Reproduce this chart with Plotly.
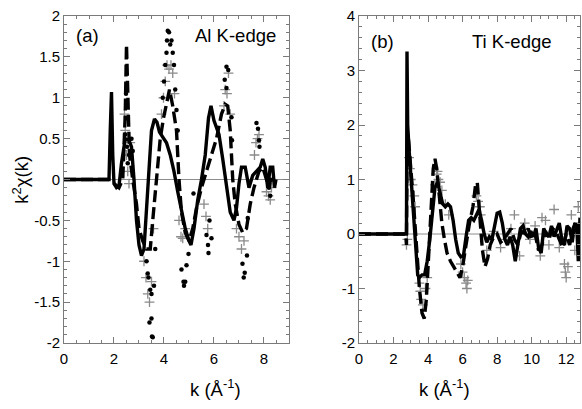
import plotly.graph_objects as go

# ---------------- Panel (a): Al K-edge ----------------
al_solid_k = [0, 1.80, 1.85, 1.90, 1.95, 2.0, 2.1, 2.2, 2.3, 2.45, 2.6, 2.7, 2.8, 2.9, 3.0, 3.1, 3.2, 3.3, 3.4, 3.5,
              3.62, 3.72, 3.82, 3.95, 4.1, 4.25, 4.4, 4.55, 4.7, 4.85, 5.0, 5.08, 5.2, 5.35, 5.5, 5.65, 5.78, 5.88,
              6.0, 6.1, 6.2, 6.35, 6.5, 6.65, 6.8, 6.9, 7.0, 7.1, 7.25, 7.4, 7.55, 7.7, 7.85, 7.95, 8.05, 8.15,
              8.25, 8.35, 8.42, 8.48]
al_solid_v = [0, 0, 0.6, 1.07, 0.3, -0.05, -0.1, -0.08, 0.2, 0.5, 0.48, 0.4, 0.0, -0.5, -0.8, -0.93, -0.85, -0.4,
              0.2, 0.6, 0.74, 0.7, 0.58, 0.52, 0.45, 0.3, 0.1, -0.15, -0.4, -0.6, -0.75, -0.8, -0.6, -0.25, 0.0,
              0.3, 0.75, 0.9, 0.72, 0.62, 0.55, 0.25, -0.1, -0.4, -0.5, -0.35, -0.05, 0.15, 0.15, -0.1, 0.05,
              0.1, 0.15, 0.25, 0.15, -0.1, 0.15, 0.15, -0.1, 0.0]

al_dash_k = [0, 1.8, 2.0, 2.2, 2.35, 2.45, 2.5, 2.55, 2.62, 2.75, 2.9, 3.0, 3.15, 3.3, 3.45, 3.55, 3.7, 3.85, 3.98,
             4.1, 4.22, 4.35, 4.5, 4.6, 4.7, 4.85, 5.0, 5.15, 5.3, 5.5, 5.65, 5.8, 5.95, 6.1, 6.3, 6.45, 6.55,
             6.65, 6.75, 6.85, 7.0, 7.15, 7.3, 7.45, 7.6, 7.8, 7.95, 8.1, 8.2, 8.3, 8.45]
al_dash_v = [0, 0, -0.05, -0.1, 0.0, 0.8, 1.65, 0.9, 0.3, 0.0, -0.3, -0.6, -0.75, -0.85, -0.85, -0.5, 0.0, 0.5,
             0.75, 0.95, 1.1, 0.9, 0.6, 0.0, -0.4, -0.65, -0.75, -0.6, -0.35, -0.1, 0.05, 0.2, 0.35, 0.5, 0.8,
             0.92, 0.9, 0.6, 0.0, -0.3, -0.55, -0.65, -0.6, -0.3, -0.1, 0.1, 0.15, 0.0, -0.1, 0.05, -0.05]

al_dots_k = [2.45, 2.5, 2.48, 2.52, 2.6, 2.55, 2.7, 2.75, 3.3, 3.35, 3.38, 3.45, 3.5, 3.42, 3.5, 3.52, 3.55, 3.6,
             3.65, 3.95, 4.0, 4.05, 4.1, 4.12, 4.15, 4.2, 4.25, 4.3, 4.35, 4.4, 4.45, 4.5, 4.55, 4.7, 4.78, 4.8,
             4.85, 4.9, 4.98, 5.18, 5.7, 5.76, 5.78, 5.9, 5.82, 6.43, 6.5, 6.57, 6.5, 6.7, 6.72, 7.14, 7.19, 7.23,
             7.32, 7.35, 7.7, 7.76, 7.8, 7.82, 8.2, 8.25]
al_dots_v = [0.55, 0.75, 1.05, 0.4, 0.3, 0.2, 0.5, 0.35, -1.0, -1.15, -1.2, -1.35, -1.4, -1.75, -1.7, -1.92, -1.93,
             -1.3, -0.85, 1.0, 1.2, 1.4, 1.55, 1.7, 1.82, 1.8, 1.65, 1.7, 1.55, 1.4, 1.1, 0.85, 0.6, -1.1, -1.25,
             -1.3, -1.25, -1.05, -0.91, -0.17, -0.68, -0.8, -0.9, -0.72, -0.5, 1.22, 1.38, 1.34, 1.12, 0.76,
             0.48, -1.03, -1.2, -1.14, -0.93, -0.47, 0.69, 0.62, 0.48, 0.4, -0.1, -0.2]

al_cross_k = [2.42, 2.45, 2.5, 2.55, 2.6, 2.65, 3.2, 3.28, 3.35, 3.42, 3.5, 3.58, 3.9, 3.98, 4.05, 4.12, 4.2, 4.28,
              4.35, 4.42, 4.6, 4.68, 4.75, 4.85, 5.6, 5.68, 5.75, 6.4, 6.45, 6.52, 6.58, 6.65, 6.9, 7.0, 7.1, 7.2,
              7.62, 7.68, 7.74, 7.8, 8.1, 8.18, 8.25, 8.3]
al_cross_v = [0.8, 0.6, 0.3, 0.1, -0.05, 0.45, -1.0, -1.2, -1.4, -1.5, -1.25, -0.6, 0.8, 1.0, 1.2, 1.4, 1.35, 1.4,
              1.3, 1.05, -0.5, -0.7, -0.72, -0.6, -0.3, -0.45, -0.6, 0.9, 1.1, 1.05, 1.3, 0.8, -0.6, -0.7, -0.85,
              -0.75, 0.3, 0.45, 0.5, 0.55, -0.15, -0.2, -0.25, -0.1]

# ---------------- Panel (b): Ti K-edge ----------------
ti_solid_k = [0, 2.7, 2.75, 2.78, 2.82, 2.9, 3.0, 3.1, 3.2, 3.3, 3.4, 3.5, 3.65, 3.8, 3.95, 4.1, 4.25, 4.4, 4.55,
              4.7, 4.85, 5.0, 5.15, 5.3, 5.45, 5.6, 5.75, 5.9, 6.05, 6.2, 6.35, 6.5, 6.65, 6.8, 6.95, 7.1, 7.25,
              7.4, 7.55, 7.7, 7.85, 8.0, 8.15, 8.3, 8.45, 8.6, 8.75, 8.9, 9.05, 9.2, 9.35, 9.5, 9.65, 9.8, 9.95,
              10.1, 10.25, 10.4, 10.55, 10.7, 10.85, 11.0, 11.15, 11.3, 11.45, 11.6, 11.75, 11.9, 12.05, 12.2,
              12.35, 12.5, 12.62, 12.7, 12.8]
ti_solid_v = [0, 0, 0, 3.35, 2.0, 1.55, 1.1, 0.6, 0.0, -0.45, -0.75, -0.8, -0.75, -0.75, -0.5, -0.1, 0.4, 0.85,
              0.95, 0.75, 0.55, 0.5, 0.55, 0.5, 0.25, -0.1, -0.35, -0.42, -0.4, -0.05, 0.25, 0.3, 0.25, 0.35,
              0.45, 0.25, 0.0, -0.15, -0.05, -0.1, 0.15, 0.38, 0.4, 0.2, -0.1, -0.2, -0.05, -0.2, -0.5, -0.15,
              0.1, 0.15, 0.0, -0.05, 0.05, -0.05, 0.1, -0.25, -0.35, 0.1, 0.0, -0.05, 0.15, -0.05, 0.1, 0.2,
              -0.1, -0.2, 0.15, 0.1, -0.15, 0.2, 0.1, -0.5, 0.3]

ti_dash_k = [0, 2.7, 2.75, 2.78, 2.85, 2.95, 3.05, 3.15, 3.25, 3.35, 3.5, 3.65, 3.78, 3.9, 4.0, 4.1, 4.2, 4.3, 4.4,
             4.5, 4.65, 4.8, 4.95, 5.1, 5.3, 5.5, 5.7, 5.85, 6.0, 6.2, 6.4, 6.6, 6.75, 6.85, 6.95, 7.05, 7.15,
             7.3, 7.45, 7.6, 7.8, 8.0, 8.2, 8.4, 8.6, 8.8, 9.0, 9.2, 9.4, 9.6, 9.8, 10.0, 10.2, 10.4, 10.6, 10.8,
             11.0, 11.2, 11.4, 11.6, 11.8, 12.0, 12.2, 12.4, 12.6, 12.8]
ti_dash_v = [0, 0, -0.2, 1.5, 1.8, 1.3, 1.0, 0.6, 0.1, -0.4, -1.0, -1.45, -1.55, -1.2, -0.6, 0.0, 0.7, 1.2, 1.38,
             1.2, 0.7, 0.2, -0.1, -0.35, -0.5, -0.6, -0.7, -0.8, -0.6, -0.2, 0.2, 0.5, 0.9, 0.95, 0.6, 0.1,
             -0.3, -0.6, -0.45, -0.2, -0.05, 0.0, -0.15, -0.1, 0.0, 0.1, -0.1, -0.2, 0.05, 0.0, 0.1, -0.1, 0.0,
             -0.3, -0.2, 0.05, -0.1, 0.1, 0.05, -0.1, -0.25, 0.0, -0.2, 0.1, 0.25, -0.1]

ti_cross_k = [2.75, 2.8, 2.9, 2.95, 3.0, 3.1, 3.2, 3.25, 3.5, 3.55, 3.6, 3.7, 3.85, 3.95, 4.4, 4.5, 4.55, 4.6, 4.7,
              4.8, 5.0, 5.2, 5.9, 6.0, 6.1, 6.2, 6.25, 6.3, 6.8, 6.9, 7.0, 7.05, 7.4, 7.8, 8.2, 8.5, 8.8, 9.0, 9.3,
              9.6, 9.9, 10.2, 10.5, 10.6, 10.8, 11.0, 11.3, 11.6, 11.9, 11.95, 12.0, 12.1, 12.3, 12.5, 12.7]
ti_cross_v = [-0.2, -0.1, 1.4, 1.2, 1.0, 0.9, 0.7, 0.5, -0.9, -1.05, -1.2, -1.3, -1.0, -0.8, 0.9, 1.1, 1.15, 1.0,
              0.95, 0.8, 0.55, 0.35, -0.55, -0.7, -0.8, -0.9, -1.0, -0.85, 0.7, 0.6, 0.5, 0.35, -0.3, 0.05, -0.25,
              -0.1, 0.1, 0.35, -0.4, 0.2, -0.1, 0.15, -0.4, 0.3, 0.25, -0.2, 0.45, -0.25, -0.55, -0.7, -0.8, -0.6,
              0.35, -0.3, 0.5]

# tick labels
al_x_ticks = [0, 2, 4, 6, 8]
al_y_ticks = [-2, -1.5, -1, -0.5, 0, 0.5, 1, 1.5, 2]
al_y_text = ["-2", "-1.5", "-1", "-0.5", "0", "0.5", "1", "1.5", "2"]
ti_x_ticks = [0, 2, 4, 6, 8, 10, 12]
ti_y_ticks = [-2, -1, 0, 1, 2, 3, 4]
ti_y_text = ["-2", "-1", "0", "1", "2", "3", "4"]

FONT = "Liberation Sans, Arial, Helvetica, sans-serif"
CROSS_COL = "#8a8a8a"
FRAME_COL = "#7a7a7a"

fig = go.Figure()

def add_panel(xa, ya, ck, cv, dk, dv, sk, sv, dotk=None, dotv=None):
    fig.add_trace(go.Scatter(x=ck, y=cv, mode="markers", xaxis=xa, yaxis=ya,
                             marker=dict(symbol="cross-thin", size=7,
                                         line=dict(color=CROSS_COL, width=1.3)),
                             showlegend=False))
    if dotk is not None:
        fig.add_trace(go.Scatter(x=dotk, y=dotv, mode="markers", xaxis=xa, yaxis=ya,
                                 marker=dict(symbol="circle", size=4.5, color="black"),
                                 showlegend=False))
    fig.add_trace(go.Scatter(x=dk, y=dv, mode="lines", xaxis=xa, yaxis=ya,
                             line=dict(color="black", width=3.4, dash="12px,5px"),
                             showlegend=False))
    fig.add_trace(go.Scatter(x=sk, y=sv, mode="lines", xaxis=xa, yaxis=ya,
                             line=dict(color="black", width=3.4),
                             showlegend=False))

add_panel("x", "y", al_cross_k, al_cross_v, al_dash_k, al_dash_v, al_solid_k, al_solid_v,
          al_dots_k, al_dots_v)
add_panel("x2", "y2", ti_cross_k, ti_cross_v, ti_dash_k, ti_dash_v, ti_solid_k, ti_solid_v)

common_axis = dict(showgrid=False, showline=True, linecolor=FRAME_COL, linewidth=1,
                   mirror="ticks", ticks="inside", ticklen=6, tickcolor=FRAME_COL, tickwidth=1,
                   tickfont=dict(family=FONT, size=15, color="black"),
                   zeroline=False, automargin=False)

fig.update_layout(
    template="none",
    width=582, height=409,
    margin=dict(l=64, r=2, t=16, b=66, autoexpand=False),
    paper_bgcolor="white", plot_bgcolor="white",
    font=dict(family=FONT, color="black"),
    xaxis=dict(domain=[0, 0.436], range=[0, 9], tickvals=al_x_ticks, anchor="y", ticklabelstandoff=2,
               minor=dict(ticks="inside", dtick=0.5, ticklen=3, tickcolor=FRAME_COL), **common_axis),
    yaxis=dict(domain=[0, 1], range=[-2, 2], tickvals=al_y_ticks, ticktext=al_y_text, anchor="x",
               minor=dict(ticks="inside", dtick=0.1, ticklen=3, tickcolor=FRAME_COL), **common_axis),
    xaxis2=dict(domain=[0.5717, 1], range=[0, 12.8], tickvals=ti_x_ticks, anchor="y2", ticklabelstandoff=2,
                minor=dict(ticks="inside", dtick=0.5, ticklen=3, tickcolor=FRAME_COL), **common_axis),
    yaxis2=dict(domain=[0, 1], range=[-2, 4], tickvals=ti_y_ticks, ticktext=ti_y_text, anchor="x2",
                minor=dict(ticks="inside", dtick=0.2, ticklen=3, tickcolor=FRAME_COL), **common_axis),
)

# zero lines
for xr, yr in (("x", "y"), ("x2", "y2")):
    fig.add_shape(type="line", xref=f"{xr} domain", yref=yr, x0=0, x1=1, y0=0, y1=0,
                  line=dict(color="#8c8c8c", width=1), layer="below")

ann_font = dict(family=FONT, size=18.5, color="black")
fig.add_annotation(text="(a)", xref="x", yref="y", x=0.4, y=1.76, showarrow=False,
                   xanchor="left", font=ann_font)
fig.add_annotation(text="Al K-edge", xref="x", yref="y", x=8.55, y=1.76, showarrow=False,
                   xanchor="right", font=ann_font)
fig.add_annotation(text="(b)", xref="x2", yref="y2", x=0.6, y=3.53, showarrow=False,
                   xanchor="left", font=ann_font)
fig.add_annotation(text="Ti K-edge", xref="x2", yref="y2", x=11.3, y=3.53, showarrow=False,
                   xanchor="right", font=ann_font)

# axis titles
fig.add_annotation(text="k (Å<sup>-1</sup>)", xref="paper", yref="paper", x=0.24, y=-0.138,
                   yanchor="middle", showarrow=False, font=ann_font)
fig.add_annotation(text="k (Å<sup>-1</sup>)", xref="paper", yref="paper", x=0.79, y=-0.138,
                   yanchor="middle", showarrow=False, font=ann_font)
fig.add_annotation(text="k<sup>2</sup>χ(k)", xref="paper", yref="paper", x=-0.085, y=0.5,
                   textangle=-90, showarrow=False, font=ann_font, xanchor="center", yanchor="middle")

fig.write_html("out.html", config={"displayModeBar": False},
               post_script="document.body.style.margin='0';document.body.style.padding='0';")
